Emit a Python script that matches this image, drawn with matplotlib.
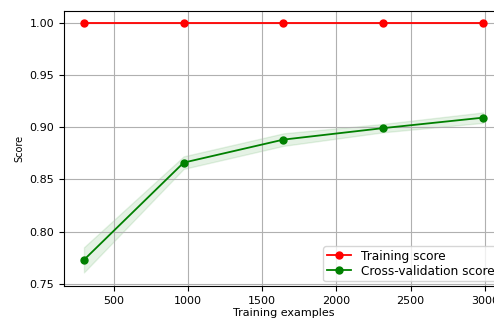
import numpy as np
import matplotlib
matplotlib.use("Agg")
import matplotlib.pyplot as plt

# --- data ---
train_sizes = [299, 971, 1643, 2316, 2988]
train_mean = [1.0, 1.0, 1.0, 1.0, 1.0]
train_std = [0.0, 0.0, 0.0, 0.0, 0.0]
test_mean = [0.773, 0.866, 0.888, 0.899, 0.909]
test_std = [0.012, 0.006, 0.006, 0.004, 0.005]

train_mean = np.array(train_mean)
train_std = np.array(train_std)
test_mean = np.array(test_mean)
test_std = np.array(test_std)

plt.rcParams['font.size'] = 8

fig = plt.figure(figsize=(4.94, 3.21), dpi=100)
ax = fig.add_axes([64 / 494, 1 - 286 / 321, (503 - 64) / 494, (286 - 11) / 321])

ax.grid(True)
ax.fill_between(train_sizes, train_mean - train_std, train_mean + train_std,
                alpha=0.1, color="r")
ax.fill_between(train_sizes, test_mean - test_std, test_mean + test_std,
                alpha=0.1, color="g")
ax.plot(train_sizes, train_mean, 'o-', color="r", lw=1.3, ms=5,
        label="Training score")
ax.plot(train_sizes, test_mean, 'o-', color="g", lw=1.3, ms=5,
        label="Cross-validation score")

ax.set_ylim(0.748, 1.011)
ax.set_xlabel("Training examples", fontsize=8, labelpad=2)
ax.set_ylabel("Score", fontsize=7)
ax.tick_params(labelsize=8)
ax.legend(loc="lower right", fontsize=8.7, labelspacing=0.15,
          borderpad=0.3, borderaxespad=0.4)

fig.savefig("out.png", dpi=100)
